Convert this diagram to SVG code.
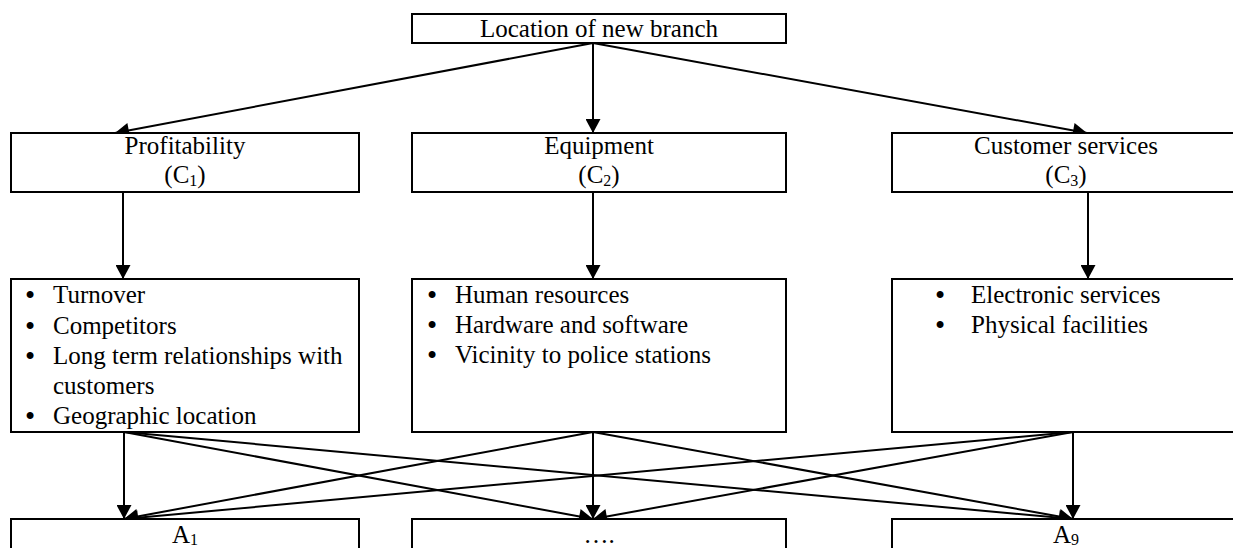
<svg xmlns="http://www.w3.org/2000/svg" width="1233" height="548" viewBox="0 0 1233 548">
<style>
.box{fill:#fff;stroke:#000;stroke-width:2}
.t{font-family:"Liberation Serif","Times New Roman",serif;font-size:25px;fill:#000}
.c{text-anchor:middle}
.sub{font-size:16px}
.b{font-size:29px}
.ln{stroke:#000;stroke-width:2;fill:none;marker-end:url(#ah)}
</style>
<defs>
<marker id="ah" markerUnits="userSpaceOnUse" markerWidth="15" markerHeight="15" refX="14" refY="7.5" orient="auto" viewBox="0 0 14 15">
<path d="M0,0 L14,7.5 L0,15 z" fill="#000"/>
</marker>
</defs>
<rect width="1233" height="548" fill="#fff"/>
<g id="connectors">
<line class="ln" x1="593" y1="43" x2="115" y2="133"/>
<line class="ln" x1="593" y1="43" x2="593" y2="133"/>
<line class="ln" x1="593" y1="43" x2="1087" y2="133"/>
<line class="ln" x1="123" y1="192" x2="123" y2="279"/>
<line class="ln" x1="593" y1="192" x2="593" y2="279"/>
<line class="ln" x1="1088" y1="192" x2="1088" y2="279"/>
<line class="ln" x1="124" y1="432" x2="124" y2="519"/>
<line class="ln" x1="124" y1="432" x2="593" y2="519"/>
<line class="ln" x1="124" y1="432" x2="1073" y2="519"/>
<line class="ln" x1="593" y1="432" x2="124" y2="519"/>
<line class="ln" x1="593" y1="432" x2="593" y2="519"/>
<line class="ln" x1="593" y1="432" x2="1073" y2="519"/>
<line class="ln" x1="1073" y1="432" x2="124" y2="519"/>
<line class="ln" x1="1073" y1="432" x2="593" y2="519"/>
<line class="ln" x1="1073" y1="432" x2="1073" y2="519"/>
</g>
<g id="goal">
<rect class="box" x="412" y="14" width="374" height="29"/>
<text class="t c" x="599" y="37">Location of new branch</text>
</g>
<g id="c1">
<rect class="box" x="11" y="133" width="348" height="59"/>
<text class="t c" x="185" y="154">Profitability</text>
<text class="t c" x="185" y="183">(C<tspan class="sub" dy="3">1</tspan><tspan dy="-3">)</tspan></text>
</g>
<g id="c2">
<rect class="box" x="412" y="133" width="374" height="59"/>
<text class="t c" x="599" y="154">Equipment</text>
<text class="t c" x="599" y="183">(C<tspan class="sub" dy="3">2</tspan><tspan dy="-3">)</tspan></text>
</g>
<g id="c3">
<rect class="box" x="892" y="133" width="348" height="59"/>
<text class="t c" x="1066" y="154">Customer services</text>
<text class="t c" x="1066" y="183">(C<tspan class="sub" dy="3">3</tspan><tspan dy="-3">)</tspan></text>
</g>
<g id="sub1">
<rect class="box" x="11" y="279" width="348" height="153"/>
<text class="t" x="25" y="303"><tspan class="b" dy="2">•</tspan><tspan x="53" dy="-2">Turnover</tspan></text>
<text class="t" x="25" y="334"><tspan class="b" dy="2">•</tspan><tspan x="53" dy="-2">Competitors</tspan></text>
<text class="t" x="25" y="364"><tspan class="b" dy="2">•</tspan><tspan x="53" dy="-2">Long term relationships with</tspan></text>
<text class="t" x="53" y="394">customers</text>
<text class="t" x="25" y="424"><tspan class="b" dy="2">•</tspan><tspan x="53" dy="-2">Geographic location</tspan></text>
</g>
<g id="sub2">
<rect class="box" x="412" y="279" width="374" height="153"/>
<text class="t" x="427" y="303"><tspan class="b" dy="2">•</tspan><tspan x="455" dy="-2">Human resources</tspan></text>
<text class="t" x="427" y="333"><tspan class="b" dy="2">•</tspan><tspan x="455" dy="-2">Hardware and software</tspan></text>
<text class="t" x="427" y="363"><tspan class="b" dy="2">•</tspan><tspan x="455" dy="-2">Vicinity to police stations</tspan></text>
</g>
<g id="sub3">
<rect class="box" x="892" y="279" width="348" height="153"/>
<text class="t" x="935" y="303"><tspan class="b" dy="2">•</tspan><tspan x="971" dy="-2">Electronic services</tspan></text>
<text class="t" x="935" y="333"><tspan class="b" dy="2">•</tspan><tspan x="971" dy="-2">Physical facilities</tspan></text>
</g>
<g id="a1">
<rect class="box" x="11" y="519" width="348" height="40"/>
<text class="t c" x="185" y="543">A<tspan class="sub" dy="2">1</tspan></text>
</g>
<g id="a2">
<rect class="box" x="412" y="519" width="374" height="40"/>
<text class="t c" x="599" y="543">….</text>
</g>
<g id="a9">
<rect class="box" x="892" y="519" width="348" height="40"/>
<text class="t c" x="1066" y="543">A<tspan class="sub" dy="2">9</tspan></text>
</g>
</svg>
